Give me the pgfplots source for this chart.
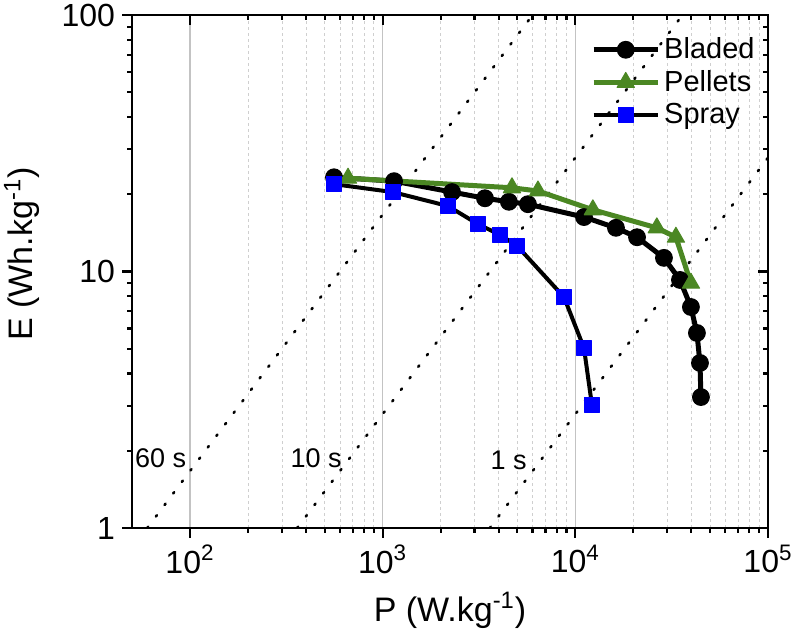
\documentclass[border=0pt]{standalone}
\usepackage{fontspec}
\setmainfont{Liberation Sans}
\usepackage{pgfplots}
\pgfplotsset{compat=1.18}
\usepackage{pgfplotstable}
\usetikzlibrary{calc}
\definecolor{pgreen}{RGB}{75,135,35}
\definecolor{gridgray}{RGB}{195,195,195}

\pgfplotstableread{
P E
559 23.3
1146 22.5
2291 20.4
3396 19.3
4520 18.7
5675 18.3
11090 16.3
16250 14.8
20900 13.6
28840 11.3
34920 9.27
39810 7.27
42760 5.76
44350 4.40
44870 3.24
}\bladed

\pgfplotstableread{
P E
661 23.1
4690 21.2
6397 20.6
12330 17.4
26480 14.8
33270 13.6
39810 9.0
}\pellets

\pgfplotstableread{
P E
559 21.9
1130 20.4
2181 18.0
3123 15.3
4064 13.9
4977 12.6
8730 7.95
11090 5.03
12190 3.02
}\spray

\begin{document}
\begin{tikzpicture}
\begin{axis}[
  name=main,
  xmode=log, ymode=log,
  scale only axis, width=318pt, height=256.5pt,
  xmin=50, xmax=1e5, ymin=1, ymax=100,
  xtick={100,1000,10000,100000},
  xticklabels={10\textsuperscript{2},10\textsuperscript{3},10\textsuperscript{4},10\textsuperscript{5}},
  minor xtick={200,300,400,500,600,700,800,900,2000,3000,4000,5000,6000,7000,8000,9000,20000,30000,40000,50000,60000,70000,80000,90000},
  ytick={1,10,100}, yticklabels={1,10,100},
  minor ytick={2,3,4,5,6,7,8,9,20,30,40,50,60,70,80,90},
  xtick pos=bottom, ytick pos=left,
  tick align=outside,
  major tick length=5pt, minor tick length=2.5pt,
  tick style={black, line width=1.1pt},
  axis line style={line width=1.2pt},
  xmajorgrids, xminorgrids,
  major grid style={solid, gridgray, line width=0.7pt},
  minor grid style={dashed, gridgray!80, line width=0.4pt, dash pattern=on 1.5pt off 1.5pt},
  ticklabel style={font=\fontsize{16}{18}\selectfont},
  xlabel={P (W.kg\textsuperscript{-1})},
  ylabel={E (Wh.kg\textsuperscript{-1})},
  xlabel style={at={(axis description cs:0.5,-0.16)}, anchor=center, font=\fontsize{17}{19}\selectfont},
  ylabel style={at={(axis description cs:-0.173,0.534)}, anchor=center, font=\fontsize{17}{19}\selectfont},
  legend style={at={(0.712,0.972)}, anchor=north west, draw=none, fill=none, font=\fontsize{14.5}{16}\selectfont, row sep=0.3pt},
  legend cell align=left,
  legend image code/.code={\draw[mark repeat=2,mark phase=2] plot coordinates {(0pt,0pt) (16pt,0pt) (32pt,0pt)};},
]
\addplot[black, line width=1.3pt, line cap=round, dash pattern=on 0.8pt off 6.4pt, forget plot] coordinates {(60,1) (6000,100)};
\addplot[black, line width=1.3pt, line cap=round, dash pattern=on 0.8pt off 6.4pt, forget plot] coordinates {(360,1) (36000,100)};
\addplot[black, line width=1.3pt, line cap=round, dash pattern=on 0.8pt off 6.4pt, forget plot] coordinates {(3600,1) (360000,100)};
\node[anchor=east, inner sep=0pt, font=\fontsize{13.5}{15}\selectfont] at (axis cs:96,1.87) {60 s};
\node[anchor=east, inner sep=0pt, font=\fontsize{13.5}{15}\selectfont] at (axis cs:615,1.87) {10 s};
\node[anchor=east, inner sep=0pt, font=\fontsize{13.5}{15}\selectfont] at (axis cs:5610,1.84) {1 s};

\addplot[black, line width=2.5pt, line join=round, mark=*, mark size=4.2pt, mark options={solid, line width=0.5pt}] table {\bladed};
\addlegendentry{Bladed}
\addplot[pgreen, line width=2.5pt, line join=round, mark=triangle*, mark size=5pt, mark options={solid, line width=0.5pt}] table {\pellets};
\addlegendentry{Pellets}
\addplot[black, line width=2pt, line join=round, mark=square*, mark size=3.7pt, mark options={solid, fill=blue, draw=blue, line width=0.4pt}] table {\spray};
\addlegendentry{Spray}
\end{axis}
\begin{axis}[
  at={(main.south west)}, anchor=south west,
  xmode=log, ymode=log,
  scale only axis, width=318pt, height=256.5pt,
  xmin=50, xmax=1e5, ymin=1, ymax=100,
  xtick={100,1000,10000,100000},
  minor xtick={200,300,400,500,600,700,800,900,2000,3000,4000,5000,6000,7000,8000,9000,20000,30000,40000,50000,60000,70000,80000,90000},
  ytick={1,10,100},
  minor ytick={2,3,4,5,6,7,8,9,20,30,40,50,60,70,80,90},
  xticklabels={}, yticklabels={},
  xtick pos=top, ytick pos=right,
  tick align=inside,
  major tick length=5pt, minor tick length=2.5pt,
  tick style={black, line width=1.1pt},
  axis line style={draw=none},
]
\end{axis}
\pgfresetboundingbox
\path[use as bounding box] ($(main.south west)+(-66pt,-54.5pt)$) rectangle ($(main.north east)+(12.5pt,7.5pt)$);
\end{tikzpicture}
\end{document}
